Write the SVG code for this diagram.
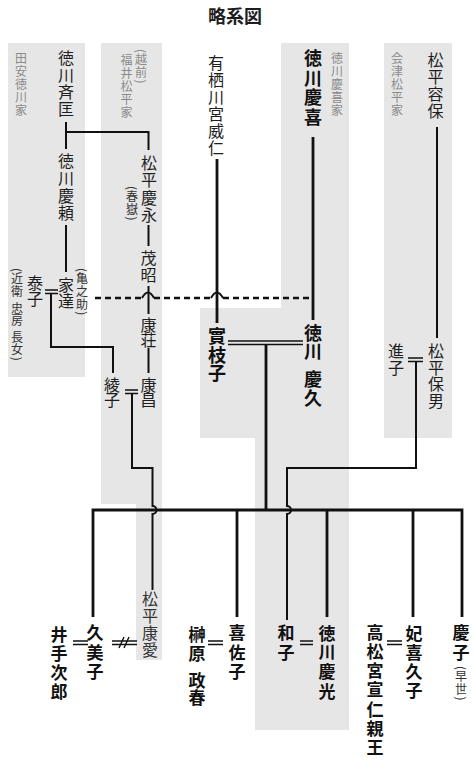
<svg xmlns="http://www.w3.org/2000/svg" width="474" height="764" viewBox="0 0 474 764">
<style>
text{font-family:"Noto Sans CJK JP","Noto Sans CJK SC",sans-serif;text-anchor:middle;fill:#1e1e1e}
.n{font-size:16px}
.b{font-size:18px;font-weight:700;fill:#111}
.c{font-size:17px;font-weight:700;fill:#111}
.g{font-size:12px;fill:#8a8a8a}
.s{font-size:12px;fill:#333;writing-mode:vertical-rl;text-anchor:start;letter-spacing:0.8px}
.sg{fill:#8a8a8a}
.pan{fill:#e6e6e6}
.l{fill:none;stroke:#111;stroke-width:2}
.t{fill:none;stroke:#111;stroke-width:2.8}
.m{fill:none;stroke:#111;stroke-width:1.4}
.d{fill:none;stroke:#111;stroke-width:2.4;stroke-dasharray:6 4}
</style>
<rect width="474" height="764" fill="#fff"/>
<g id="panels">
<rect class="pan" x="8" y="43" width="77" height="334"/>
<path class="pan" d="M101,43H162V660H136V504H101Z"/>
<path class="pan" d="M281,43H349V730H255V438H200V308H281Z"/>
<rect class="pan" x="384" y="43" width="68" height="395"/>
</g>
<text x="235" y="23" style="font-size:18px;font-weight:700">略系図</text>
<g id="labels">
<text class="g" x="21 21 21 21 21" y="62.5 75.5 88.5 101.5 114.5">田安徳川家</text>
<text class="g" x="126.5 126.5 126.5 126.5 126.5" y="65 78 91 104 117">福井松平家</text>
<text class="s sg" x="141" y="49">(越前)</text>
<text class="g" x="337 337 337 337 337" y="62.5 75.5 88.5 101.5 114.5">徳川慶喜家</text>
<text class="g" x="397 397 397 397 397" y="62.5 75.5 88.5 101.5 114.5">会津松平家</text>
</g>
<g id="connectors">
<path class="l" d="M66,122V149M66,132H148.5V150M148.5,225V246M148.5,286V314M148.5,348V373M66,225V272M51,293V347H113V373"/>
<path class="l" d="M132,393.5V468H152.5V506A4,4 0 0 1 152.5,514V590"/>
<path class="l" d="M437,127V338M416,361V468H287V506A4,4 0 0 1 287,514V620"/>
<path class="t" d="M217,159V323M313,137V320M266,344V510"/>
<path class="t" d="M93,617V510H462V617M237,510V617M327,510V617M413,510V617"/>
<path class="d" d="M95,298H142M154,298H211M223,298H313"/>
<path class="l" d="M142,298Q148,287 154,298M211,298Q217,287 223,298"/>
<path class="m" d="M45,290H58M45,293.5H58M125,390H138M125,393.5H138M228,341H303M228,344.5H303M408,358H423M408,361.5H423M73,641H88M73,644.5H88M112,641H137M112,644.5H137M208,641H223M208,644.5H223M300,641H313M300,644.5H313M387,641H402M387,644.5H402"/>
<path class="m" d="M119,648L124,637M124,648L129,637"/>
</g>
<g id="n-nariyoshi"><text class="n" x="66 66 66 66" y="63.5 80.5 97.5 114.5">徳川斉匡</text></g>
<g id="n-takehito"><text class="n" x="216 216 216 216 216 216" y="68.5 85.5 102.5 119.5 136.5 153.5">有栖川宮威仁</text></g>
<g id="n-yoshinobu"><text class="b" x="313 313 313 313" y="65.3 84.8 104.3 123.8">徳川慶喜</text></g>
<g id="n-katamori"><text class="n" x="435.5 435.5 435.5 435.5" y="65.5 82.5 99.5 116.5">松平容保</text></g>
<g id="n-yoshiyori"><text class="n" x="66 66 66 66" y="166.5 184 201.5 219">徳川慶頼</text></g>
<g id="n-yoshinaga"><text class="n" x="149 149 149 149" y="168.5 186 203.5 221">松平慶永</text><text class="s" x="132" y="186">(春嶽)</text></g>
<g id="n-mochiaki"><text class="n" x="148.5 148.5" y="264 281">茂昭</text></g>
<g id="n-yasutaka"><text class="n" x="148.5 148.5" y="330.5 345.5">康荘</text></g>
<g id="n-yasumasa"><text class="n" x="148.5 148.5" y="391 406">康昌</text></g>
<g id="n-ayako"><text class="n" x="112 112" y="391 406">綾子</text></g>
<g id="n-yasuko"><text class="n" x="35 35" y="289 305">泰子</text><text class="s" x="17" y="268">(近衛 忠房 長女)</text></g>
<g id="n-iesato"><text class="n" x="66 66" y="290.5 306.5">家達</text><text class="s" x="82" y="268">(亀之助)</text></g>
<g id="n-saeko"><text class="b" x="217 217 217" y="342.8 361.8 380.3">實枝子</text></g>
<g id="n-yoshihisa"><text class="b" x="313 313 313 313" y="340.3 358.3 385.8 405.3">徳川慶久</text></g>
<g id="n-yukiko"><text class="n" x="396 396" y="356.5 373.5">進子</text></g>
<g id="n-morio"><text class="n" x="436 436 436 436" y="357 373.5 390 406.5">松平保男</text></g>
<g id="n-yasuyoshi"><text class="n" x="150 150 150 150" y="604.5 621.5 638.5 655.5" style="fill:#333">松平康愛</text></g>
<g id="n-ide"><text class="c" x="59 59 59 59" y="641 660 679 698">井手次郎</text></g>
<g id="n-kumiko"><text class="c" x="95 95 95" y="639 658.5 678">久美子</text></g>
<g id="n-sakakibara"><text class="c" x="197 197 197 197" y="640.5 660 686.5 704">榊原政春</text></g>
<g id="n-kisako"><text class="c" x="237 237 237" y="639 658.5 678">喜佐子</text></g>
<g id="n-kazuko"><text class="c" x="286 286" y="639 658.5">和子</text></g>
<g id="n-yoshimitsu"><text class="c" x="327 327 327 327" y="640 658 677.5 697.5">徳川慶光</text></g>
<g id="n-nobuhito"><text class="c" x="375 375 375 375 375 375 375" y="638.5 657.8 677.1 696.4 715.7 735 754.3">高松宮宣仁親王</text></g>
<g id="n-kikuko"><text class="c" x="414 414 414 414" y="639.5 658.5 677.5 696.5">妃喜久子</text></g>
<g id="n-yoshiko"><text class="c" x="461 461" y="639 658.5">慶子</text><text class="s" x="461" y="666">(早世)</text></g>
</svg>
